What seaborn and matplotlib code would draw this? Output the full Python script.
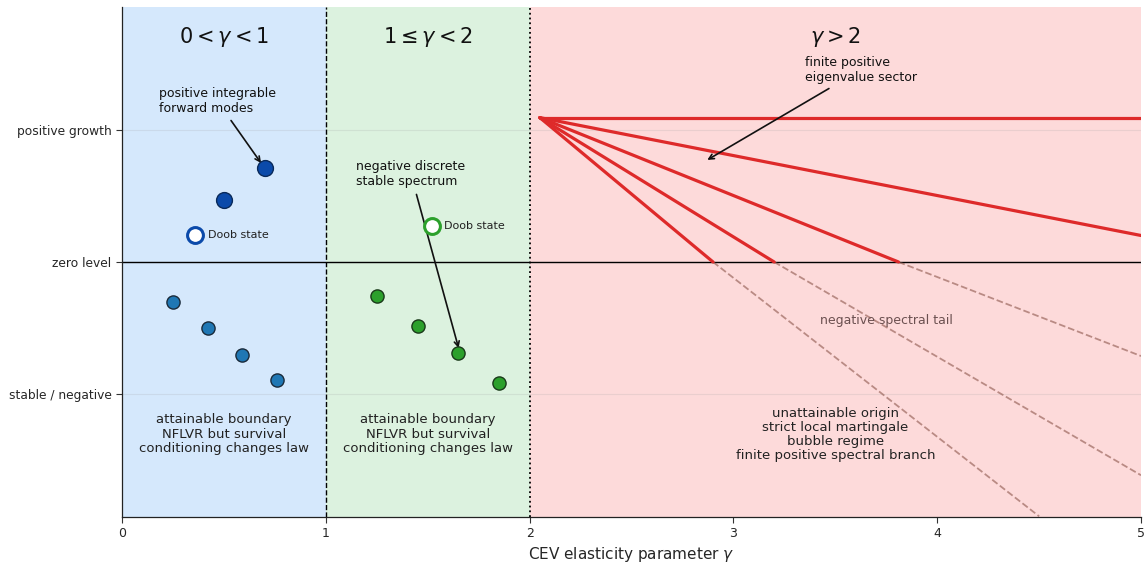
import matplotlib
matplotlib.use("Agg")
import matplotlib.pyplot as plt
import seaborn as sns
import pandas as pd

# ---- data ----
ytick_vals = [1.0, 0.0, -1.0]
ytick_labels = ["positive growth", "zero level", "stable / negative"]
xticks = [0, 1, 2, 3, 4, 5]

blue_pos_x = [0.50, 0.70]
blue_pos_y = [0.47, 0.71]
blue_neg_x = [0.25, 0.42, 0.59, 0.76]
blue_neg_y = [-0.30, -0.50, -0.70, -0.89]
blue_doob = (0.36, 0.20)

green_neg_x = [1.25, 1.45, 1.65, 1.85]
green_neg_y = [-0.26, -0.48, -0.69, -0.91]
green_doob = (1.52, 0.27)

# red spectral branches: start, zero crossing / end (solid), dashed tail end
branch_start = (2.05, 1.09)
solid_end_x = [5.00, 5.00, 3.81, 3.20, 2.90]
solid_end_y = [1.09, 0.20, 0.00, 0.00, 0.00]
tail_end_x = [None, None, 5.00, 5.00, 4.50]
tail_end_y = [None, None, -0.71, -1.61, -1.92]

regions = [(0, 1), (1, 2), (2, 5)]
region_titles = [r"$0 < \gamma < 1$", r"$1 \leq \gamma < 2$", r"$\gamma > 2$"]
region_colors = ["#d5e8fc", "#dcf2df", "#fddada"]

# ---- figure ----
sns.set_theme(style="white")
plt.rcParams["font.family"] = ["DejaVu Sans"]
fig = plt.figure(figsize=(11.47, 5.65), dpi=100)
ax = fig.add_axes([0.1064, 0.085, 0.8884, 0.9026])

for (a, b), c in zip(regions, region_colors):
    ax.axvspan(a, b, color=c, lw=0, zorder=0)

ax.axvline(1, color="black", ls="--", lw=1.0, zorder=1)
ax.axvline(2, color="black", ls=":", lw=1.3, zorder=1)
ax.axhline(0, color="black", lw=1.0, zorder=1)
for yv in ytick_vals:
    ax.axhline(yv, color="0.6", lw=0.8, alpha=0.18, zorder=0.5)

# red lines
for i in range(len(solid_end_x)):
    df = pd.DataFrame({"x": [branch_start[0], solid_end_x[i]],
                       "y": [branch_start[1], solid_end_y[i]]})
    sns.lineplot(data=df, x="x", y="y", color="#de2a2a", lw=2.3, ax=ax,
                 zorder=3, sort=False)
    if tail_end_x[i] is not None:
        dft = pd.DataFrame({"x": [solid_end_x[i], tail_end_x[i]],
                            "y": [solid_end_y[i], tail_end_y[i]]})
        sns.lineplot(data=dft, x="x", y="y", color="#8c564b", alpha=0.6,
                     lw=1.3, ls="--", ax=ax, zorder=2, sort=False)

# points
sns.scatterplot(x=blue_neg_x, y=blue_neg_y, color="#1f77b4", s=90,
                edgecolor="#1a2a3a", linewidth=1.0, ax=ax, zorder=4)
sns.scatterplot(x=blue_pos_x, y=blue_pos_y, color="#0b4aaa", s=130,
                edgecolor="#0a2a5a", linewidth=1.0, ax=ax, zorder=4)
sns.scatterplot(x=green_neg_x, y=green_neg_y, color="#2ca02c", s=90,
                edgecolor="#1a3a1a", linewidth=1.0, ax=ax, zorder=4)
sns.scatterplot(x=[blue_doob[0]], y=[blue_doob[1]], color="white", s=130,
                edgecolor="#0b4aaa", linewidth=2.2, ax=ax, zorder=4)
sns.scatterplot(x=[green_doob[0]], y=[green_doob[1]], color="white", s=130,
                edgecolor="#2ca02c", linewidth=2.2, ax=ax, zorder=4)

ax.text(blue_doob[0] + 0.06, blue_doob[1], "Doob state", fontsize=8,
        va="center", ha="left", color="#222222", zorder=5)
ax.text(green_doob[0] + 0.06, green_doob[1], "Doob state", fontsize=8,
        va="center", ha="left", color="#222222", zorder=5)

# region titles
for (a, b), t in zip(regions, region_titles):
    ax.text((a + b) / 2 if b < 5 else 3.5, 1.70, t, fontsize=15,
            ha="center", va="center", color="#111111")

# annotations
arrow = dict(arrowstyle="->", color="#111111", lw=1.2)
ax.annotate("positive integrable\nforward modes", xy=(0.69, 0.73),
            xytext=(0.18, 1.11), fontsize=9, ha="left", va="bottom",
            arrowprops=arrow, color="#111111")
ax.annotate("negative discrete\nstable spectrum", xy=(1.655, -0.67),
            xytext=(1.15, 0.555), fontsize=9, ha="left", va="bottom",
            arrowprops=arrow, color="#111111")
ax.annotate("finite positive\neigenvalue sector", xy=(2.86, 0.76),
            xytext=(3.35, 1.345), fontsize=9, ha="left", va="bottom",
            arrowprops=arrow, color="#111111")

ax.text(3.75, -0.44, "negative spectral tail", fontsize=9, ha="center",
        va="center", color="#6b5050")
bottom_txt = "attainable boundary\nNFLVR but survival\nconditioning changes law"
ax.text(0.5, -1.3, bottom_txt, fontsize=9.5, ha="center", va="center",
        color="#222222", linespacing=1.15)
ax.text(1.5, -1.3, bottom_txt, fontsize=9.5, ha="center", va="center",
        color="#222222", linespacing=1.15)
ax.text(3.5, -1.3, "unattainable origin\nstrict local martingale\nbubble regime\nfinite positive spectral branch",
        fontsize=9.5, ha="center", va="center", color="#222222", linespacing=1.1)

ax.set_xlim(0, 5)
ax.set_ylim(-1.925, 1.925)
ax.set_xticks(xticks)
ax.set_xticklabels([str(v) for v in xticks], fontsize=9)
ax.set_yticks(ytick_vals)
ax.set_yticklabels(ytick_labels, fontsize=8.8)
ax.tick_params(axis="both", length=4, width=0.8, color="#333333", left=True, bottom=True)
ax.set_xlabel(r"CEV elasticity parameter $\gamma$", fontsize=11, labelpad=3)
ax.set_ylabel("")
for s in ["top", "right"]:
    ax.spines[s].set_visible(False)
for s in ["left", "bottom"]:
    ax.spines[s].set_color("#222222")
    ax.spines[s].set_linewidth(0.9)

fig.savefig("out.png", dpi=100)
